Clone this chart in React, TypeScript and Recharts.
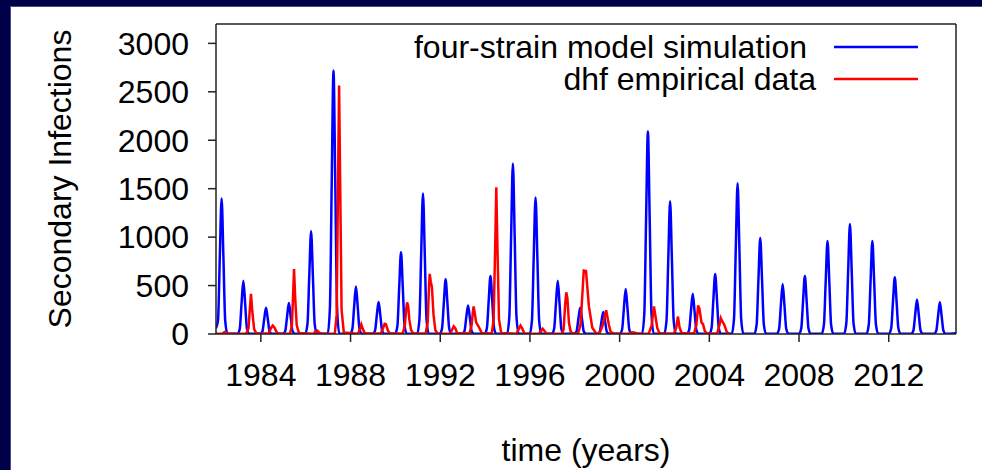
import React from "react";
import { LineChart, Line, XAxis, YAxis, Legend } from "recharts";

// four-strain model simulation: [year, secondary infections]
const modelSimulation: [number, number][] = [
  [1982.0, 60], [1982.09, 140], [1982.17, 800], [1982.25, 1400], [1982.33, 800], [1982.41, 140], [1982.51, 2],
  [1982.96, 2], [1983.06, 55], [1983.14, 315], [1983.22, 550], [1983.3, 315], [1983.38, 55], [1983.48, 2],
  [1983.97, 2], [1984.07, 27], [1984.15, 155], [1984.23, 270], [1984.31, 155], [1984.39, 27], [1984.49, 2],
  [1984.99, 2], [1985.09, 32], [1985.17, 180], [1985.25, 320], [1985.33, 180], [1985.41, 32], [1985.51, 2],
  [1985.98, 2], [1986.08, 106], [1986.16, 605], [1986.24, 1060], [1986.32, 605], [1986.4, 106], [1986.5, 2],
  [1986.98, 2], [1987.08, 270], [1987.16, 1550], [1987.24, 2720], [1987.32, 1550], [1987.4, 270], [1987.5, 2],
  [1987.98, 2], [1988.08, 49], [1988.16, 280], [1988.24, 490], [1988.32, 280], [1988.4, 49], [1988.5, 2],
  [1988.99, 2], [1989.09, 33], [1989.17, 190], [1989.25, 330], [1989.33, 190], [1989.41, 33], [1989.51, 2],
  [1989.99, 2], [1990.09, 85], [1990.17, 480], [1990.25, 845], [1990.33, 480], [1990.41, 85], [1990.51, 2],
  [1990.97, 2], [1991.07, 145], [1991.15, 825], [1991.23, 1450], [1991.31, 825], [1991.39, 145], [1991.49, 2],
  [1991.98, 2], [1992.08, 57], [1992.16, 320], [1992.24, 565], [1992.32, 320], [1992.4, 57], [1992.5, 2],
  [1992.98, 2], [1993.08, 30], [1993.16, 170], [1993.24, 295], [1993.32, 170], [1993.4, 30], [1993.5, 2],
  [1993.98, 2], [1994.08, 60], [1994.16, 340], [1994.24, 600], [1994.32, 340], [1994.4, 60], [1994.5, 2],
  [1994.98, 2], [1995.08, 176], [1995.16, 1000], [1995.24, 1760], [1995.32, 1000], [1995.4, 176], [1995.5, 2],
  [1995.99, 2], [1996.09, 141], [1996.17, 805], [1996.25, 1410], [1996.33, 805], [1996.41, 141], [1996.51, 2],
  [1996.98, 2], [1997.08, 55], [1997.16, 315], [1997.24, 550], [1997.32, 315], [1997.4, 55], [1997.5, 2],
  [1997.98, 2], [1998.08, 27], [1998.16, 155], [1998.24, 270], [1998.32, 155], [1998.4, 27], [1998.5, 2],
  [1999.01, 2], [1999.11, 23], [1999.19, 130], [1999.27, 228], [1999.35, 130], [1999.43, 23], [1999.53, 2],
  [2000.01, 2], [2000.11, 47], [2000.19, 265], [2000.27, 465], [2000.35, 265], [2000.43, 47], [2000.53, 2],
  [2001.0, 2], [2001.1, 209], [2001.18, 1190], [2001.26, 2090], [2001.34, 1190], [2001.42, 209], [2001.52, 2],
  [2001.99, 2], [2002.09, 137], [2002.17, 780], [2002.25, 1370], [2002.33, 780], [2002.41, 137], [2002.51, 2],
  [2003.0, 2], [2003.1, 42], [2003.18, 235], [2003.26, 415], [2003.34, 235], [2003.42, 42], [2003.52, 2],
  [2004.0, 2], [2004.1, 62], [2004.18, 355], [2004.26, 620], [2004.34, 355], [2004.42, 62], [2004.52, 2],
  [2005.0, 2], [2005.1, 156], [2005.18, 885], [2005.26, 1555], [2005.34, 885], [2005.42, 156], [2005.52, 2],
  [2006.01, 2], [2006.11, 99], [2006.19, 565], [2006.27, 990], [2006.35, 565], [2006.43, 99], [2006.53, 2],
  [2007.01, 2], [2007.11, 52], [2007.19, 295], [2007.27, 515], [2007.35, 295], [2007.43, 52], [2007.53, 2],
  [2008.0, 2], [2008.1, 60], [2008.18, 340], [2008.26, 600], [2008.34, 340], [2008.42, 60], [2008.52, 2],
  [2009.01, 2], [2009.11, 96], [2009.19, 545], [2009.27, 960], [2009.35, 545], [2009.43, 96], [2009.53, 2],
  [2010.01, 2], [2010.11, 114], [2010.19, 645], [2010.27, 1135], [2010.35, 645], [2010.43, 114], [2010.53, 2],
  [2011.01, 2], [2011.11, 96], [2011.19, 545], [2011.27, 960], [2011.35, 545], [2011.43, 96], [2011.53, 2],
  [2012.01, 2], [2012.11, 59], [2012.19, 335], [2012.27, 585], [2012.35, 335], [2012.43, 59], [2012.53, 2],
  [2013.0, 2], [2013.1, 36], [2013.18, 200], [2013.26, 355], [2013.34, 200], [2013.42, 36], [2013.52, 2],
  [2014.02, 2], [2014.12, 33], [2014.2, 185], [2014.28, 328], [2014.36, 185], [2014.44, 33], [2014.54, 2],
  [2015.0, 8],
];

// dhf empirical data: [year, secondary infections]
const dhfEmpirical: [number, number][] = [
  [1982.0, 2], [1982.3, 5], [1982.38, 20], [1982.46, 10], [1982.6, 3],
  [1983.35, 5], [1983.45, 60], [1983.5, 230], [1983.56, 415], [1983.62, 230], [1983.7, 50], [1983.8, 5],
  [1984.35, 5], [1984.45, 60], [1984.53, 87], [1984.6, 70], [1984.7, 20], [1984.8, 3],
  [1985.3, 5], [1985.38, 80], [1985.43, 350], [1985.48, 670], [1985.53, 380], [1985.6, 90], [1985.7, 10],
  [1986.35, 3], [1986.45, 30], [1986.52, 35], [1986.6, 15], [1986.7, 3],
  [1987.3, 5], [1987.38, 200], [1987.44, 1500], [1987.49, 2565], [1987.54, 1500], [1987.6, 250], [1987.7, 15],
  [1988.33, 3], [1988.42, 50], [1988.48, 98], [1988.55, 50], [1988.65, 5],
  [1989.35, 5], [1989.45, 60], [1989.52, 105], [1989.58, 100], [1989.66, 40], [1989.75, 5],
  [1990.33, 5], [1990.42, 90], [1990.48, 250], [1990.52, 325], [1990.57, 290], [1990.62, 150], [1990.7, 40], [1990.8, 5],
  [1991.35, 5], [1991.44, 120], [1991.5, 500], [1991.53, 620], [1991.58, 540], [1991.63, 480], [1991.7, 200], [1991.78, 40], [1991.88, 5],
  [1992.45, 3], [1992.53, 45], [1992.6, 80], [1992.67, 60], [1992.75, 10],
  [1993.3, 5], [1993.4, 90], [1993.45, 220], [1993.49, 285], [1993.55, 200], [1993.6, 120], [1993.68, 90], [1993.75, 60], [1993.85, 10],
  [1994.3, 5], [1994.38, 150], [1994.45, 900], [1994.5, 1515], [1994.55, 900], [1994.62, 150], [1994.72, 10],
  [1995.4, 3], [1995.5, 50], [1995.58, 87], [1995.65, 60], [1995.75, 5],
  [1996.4, 3], [1996.5, 35], [1996.57, 55], [1996.65, 30], [1996.75, 3],
  [1997.42, 5], [1997.5, 45], [1997.57, 300], [1997.62, 430], [1997.67, 370], [1997.74, 115], [1997.82, 20], [1997.95, 5],
  [1998.15, 8], [1998.26, 100], [1998.4, 655], [1998.5, 650], [1998.63, 285], [1998.78, 64], [1998.95, 8],
  [1999.1, 5], [1999.23, 80], [1999.4, 245], [1999.52, 95], [1999.6, 20], [1999.75, 5],
  [2000.4, 3], [2000.55, 18], [2000.65, 15], [2000.8, 3],
  [2001.3, 5], [2001.42, 80], [2001.53, 285], [2001.6, 180], [2001.68, 60], [2001.78, 8],
  [2002.42, 5], [2002.52, 60], [2002.6, 180], [2002.67, 70], [2002.76, 10],
  [2003.32, 5], [2003.42, 90], [2003.5, 295], [2003.56, 260], [2003.65, 120], [2003.72, 100], [2003.8, 30], [2003.9, 5],
  [2004.35, 5], [2004.45, 90], [2004.51, 165], [2004.58, 130], [2004.66, 100], [2004.78, 20], [2004.88, 2],
];

const yearTicks = [1984, 1988, 1992, 1996, 2000, 2004, 2008, 2012];
const infectionTicks = [0, 500, 1000, 1500, 2000, 2500, 3000];
const seriesNames = ["four-strain model simulation", "dhf empirical data"];

const modelData = modelSimulation.map(([t, v]) => ({ t, v }));
const dhfData = dhfEmpirical.map(([t, v]) => ({ t, v }));

const FONT = "'Liberation Sans', Arial, Helvetica, sans-serif";
const AXIS = "#222";
const tickStyle = { fill: "#000", fontSize: 32, fontFamily: FONT };

function KeyBox({ payload }: any) {
  const textRight = [807, 816];
  // keep the key in plotting order, whatever order recharts hands it over
  const items = [...(payload || [])].sort(
    (a: any, b: any) => seriesNames.indexOf(a.value) - seriesNames.indexOf(b.value)
  );
  return (
    <svg width={982} height={100} style={{ display: "block" }}>
      {items.map((p: any, i: number) => (
        <g key={p.value}>
          <text x={textRight[i]} y={58 + i * 32} textAnchor="end" fontSize={32} fontFamily={FONT} fill="#000">
            {p.value}
          </text>
          <line x1={834} x2={918} y1={47 + i * 32} y2={47 + i * 32} stroke={p.color} strokeWidth={2.4} />
        </g>
      ))}
    </svg>
  );
}

export default function App() {
  return (
    <div style={{ position: "absolute", left: 0, top: 0, width: 982, height: 470, background: "#000048", overflow: "hidden" }}>
      <div
        style={{
          position: "absolute",
          left: 10,
          top: 6,
          width: 972,
          height: 464,
          background: "#fff",
          borderLeft: "1px solid #4a4a90",
          borderTop: "1px solid #4a4a90",
          boxSizing: "border-box",
        }}
      />
      <div style={{ position: "absolute", left: 0, top: 0 }}>
        <LineChart width={982} height={470} margin={{ top: 0, right: 0, bottom: 0, left: 0 }}>
          <XAxis
            dataKey="t"
            type="number"
            domain={[1982, 2015]}
            ticks={yearTicks}
            allowDataOverflow
            height={136}
            tickSize={8}
            tickMargin={21}
            tick={tickStyle}
            stroke={AXIS}
            strokeWidth={1.5}
            label={{ value: "time (years)", position: "insideBottom", offset: 9, fontSize: 32, fontFamily: FONT, fill: "#000" }}
          />
          <XAxis
            xAxisId="top"
            orientation="top"
            dataKey="t"
            type="number"
            domain={[1982, 2015]}
            ticks={yearTicks}
            allowDataOverflow
            height={24}
            tickSize={8}
            tick={false}
            stroke={AXIS}
            strokeWidth={1.5}
          />
          <YAxis
            type="number"
            domain={[0, 3200]}
            ticks={infectionTicks}
            allowDataOverflow
            width={216}
            tickSize={8}
            tickMargin={19}
            tick={tickStyle}
            stroke={AXIS}
            strokeWidth={1.5}
            label={{ value: "Secondary Infections", angle: -90, position: "center", dx: -48, fontSize: 32, fontFamily: FONT, fill: "#000" }}
          />
          <YAxis
            yAxisId="right"
            orientation="right"
            type="number"
            domain={[0, 3200]}
            ticks={infectionTicks}
            width={26}
            tickSize={8}
            tick={false}
            stroke={AXIS}
            strokeWidth={1.5}
          />
          <Legend
            layout="vertical"
            align="center"
            verticalAlign="middle"
            content={<KeyBox />}
            wrapperStyle={{ position: "absolute", left: 0, top: 0, width: 982, height: 100 }}
          />
          <Line
            data={modelData}
            dataKey="v"
            name={seriesNames[0]}
            type="monotone"
            stroke="#0000ff"
            strokeWidth={2.5}
            dot={false}
            isAnimationActive={false}
          />
          <Line
            data={dhfData}
            dataKey="v"
            name={seriesNames[1]}
            type="linear"
            stroke="#ff0000"
            strokeWidth={2.5}
            dot={false}
            isAnimationActive={false}
          />
        </LineChart>
      </div>
    </div>
  );
}
